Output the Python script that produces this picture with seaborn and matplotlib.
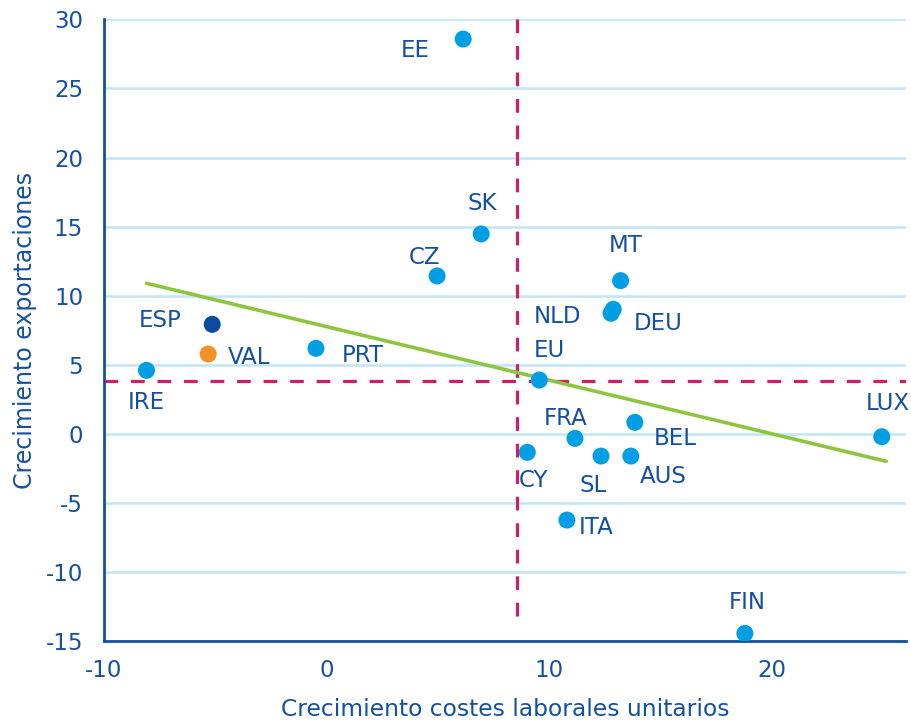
import pandas as pd
import numpy as np
import matplotlib
matplotlib.use('Agg')
import matplotlib.pyplot as plt
import seaborn as sns

# -----------------------------------------------------------------------------
# Data
# -----------------------------------------------------------------------------
countries = ['EE', 'SK', 'CZ', 'MT', 'NLD', 'DEU', 'ESP', 'VAL', 'PRT', 'IRE',
             'EU', 'FRA', 'BEL', 'CY', 'SL', 'AUS', 'ITA', 'FIN', 'LUX']
costes = [6.13, 6.94, 4.96, 13.2, 12.87, 12.77, -5.14, -5.32, -0.48, -8.09,
          9.55, 11.15, 13.84, 9.01, 12.32, 13.66, 10.79, 18.78, 24.93]
exportaciones = [28.57, 14.47, 11.43, 11.09, 9.02, 8.73, 7.93, 5.78, 6.19, 4.6,
                 3.9, -0.32, 0.84, -1.33, -1.6, -1.6, -6.23, -14.43, -0.2]
grupo = ['otros'] * len(countries)
grupo[countries.index('ESP')] = 'ESP'
grupo[countries.index('VAL')] = 'VAL'

# trend line end points
trend_x = [-8.09, 25.13]
trend_y = [10.9, -1.98]

# reference lines (EU values)
ref_x = 8.57
ref_y = 3.85
ref_x_top = 30
ref_x_bottom = -13.63

df = pd.DataFrame({'pais': countries, 'costes': costes,
                   'export': exportaciones, 'grupo': grupo})

# label offsets in pixels (dx, dy) -- layout only
offsets = {'EE': (-48, -11), 'SK': (1, 30), 'CZ': (-13, 18), 'MT': (5, 35),
           'NLD': (-56, -7), 'DEU': (47, -10), 'ESP': (-52, 4), 'VAL': (41, -3),
           'PRT': (47, -7), 'IRE': (0, -32), 'EU': (10, 30), 'FRA': (-9, 20),
           'BEL': (40, -16), 'CY': (6, -28), 'SL': (-8, -29), 'AUS': (32, -20),
           'ITA': (29, -7), 'FIN': (2, 31), 'LUX': (6, 33)}

# -----------------------------------------------------------------------------
# Style
# -----------------------------------------------------------------------------
sns.set_style('white')
plt.rcParams['font.family'] = ['DejaVu Sans']
plt.rcParams['axes.unicode_minus'] = False

DARK = '#1450a0'
GRID = '#c0e5f6'
palette = {'otros': '#009fe3', 'ESP': '#0a4b9e', 'VAL': '#f39325'}

fig = plt.figure(figsize=(9.12, 7.22), dpi=100)
ax = fig.add_axes([0.114, 0.1118, 0.879, 0.8615])

ax.set_xlim(-10, 26)
ax.set_ylim(-15, 30)
ax.set_yticks(np.arange(-15, 31, 5))
ax.set_xticks([-10, 0, 10, 20])
ax.yaxis.grid(True, color=GRID, linewidth=1.8)
ax.xaxis.grid(False)
ax.set_axisbelow(True)

# dashed reference lines
ax.plot([ref_x, ref_x], [ref_x_top, ref_x_bottom], color='#d11d66',
        lw=2.3, dashes=(4.3, 4.0), zorder=2)
ax.axhline(ref_y, color='#d11d66', lw=2.3, dashes=(4.3, 4.0), zorder=2)

# trend line
ax.plot(trend_x, trend_y, color='#8cc63f', lw=2.6, zorder=3)

sns.scatterplot(data=df, x='costes', y='export', hue='grupo', palette=palette,
                s=150, edgecolor='none', legend=False, ax=ax, zorder=4)

for _, r in df.iterrows():
    dx, dy = offsets[r['pais']]
    ax.annotate(r['pais'], (r['costes'], r['export']),
                xytext=(dx * 0.72, dy * 0.72), textcoords='offset points',
                ha='center', va='center', fontsize=16.5, color=DARK)

for side in ['top', 'right']:
    ax.spines[side].set_visible(False)
for side in ['left', 'bottom']:
    ax.spines[side].set_color(DARK)
    ax.spines[side].set_linewidth(2)

ax.tick_params(axis='both', colors=DARK, labelcolor=DARK, labelsize=16.5,
               length=5, width=1.5, direction='out')
ax.tick_params(axis='y', pad=10)
ax.tick_params(axis='x', pad=8)

ax.set_xlabel('Crecimiento costes laborales unitarios', fontsize=16.8,
              color=DARK, labelpad=11)
ax.set_ylabel('Crecimiento exportaciones', fontsize=17, color=DARK,
              labelpad=6)

plt.savefig('out.png', dpi=100)
plt.close()
